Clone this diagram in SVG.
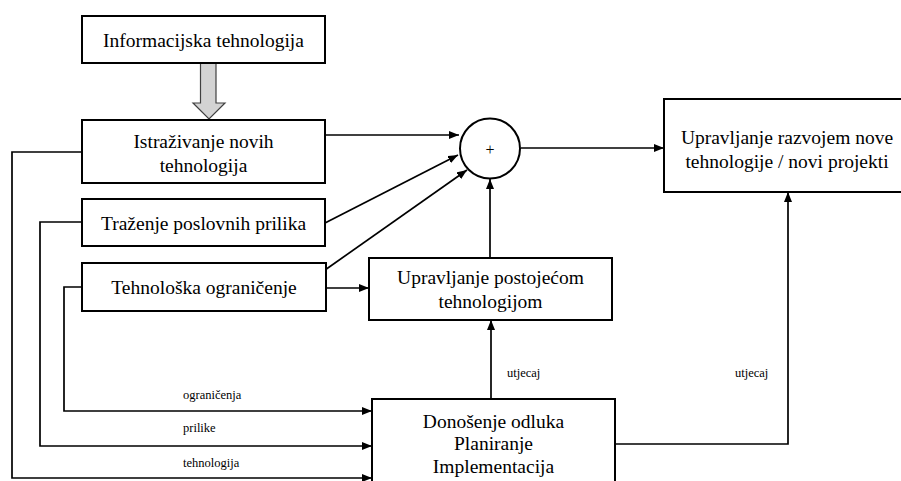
<svg xmlns="http://www.w3.org/2000/svg" width="901" height="481" viewBox="0 0 901 481">
<defs>
<marker id="ah" viewBox="0 0 10 8" refX="10" refY="4" markerWidth="10" markerHeight="8" markerUnits="userSpaceOnUse" orient="auto">
<path d="M0,0 L10,4 L0,8 Z" fill="#000"/>
</marker>
</defs>
<style>
.box{fill:#fff;stroke:#000;stroke-width:2}
.t{font-size:19.5px;fill:#000;text-anchor:middle}
.s{font-size:12.5px;fill:#000}
.c{fill:none;stroke:#000;stroke-width:1.7}
.a{marker-end:url(#ah)}
</style>
<rect width="901" height="481" fill="#fff"/>
<g font-family="'Liberation Serif', 'Times New Roman', Times, 'DejaVu Serif', serif">
<g id="connectors">
<path class="c a" d="M325,135 H459"/>
<path class="c a" d="M325,223 L458,155"/>
<path class="c a" d="M325,270 L467,170"/>
<path class="c a" d="M521,148 H664"/>
<path class="c a" d="M490,257 V179"/>
<path class="c a" d="M326,288 H369"/>
<path class="c a" d="M491,399 V320"/>
<path class="c a" d="M615,444 H788 V192"/>
<path class="c a" d="M82,152 H12 V478 H372"/>
<path class="c a" d="M82,222 H40 V446 H372"/>
<path class="c a" d="M82,287 H64 V411 H372"/>
<path d="M200.5,63 V103 H193 L209,119 L225,103 H216 V63" fill="#d3d3d3" stroke="#404040" stroke-width="1.2"/>
<text class="s" x="183" y="399">ograničenja</text>
<text class="s" x="183" y="432">prilike</text>
<text class="s" x="183" y="467">tehnologija</text>
<text class="s" x="507" y="377">utjecaj</text>
<text class="s" x="735" y="377">utjecaj</text>
</g>
<g id="n-info">
<rect class="box" x="82" y="16" width="243" height="47"/>
<text class="t" x="203.5" y="47">Informacijska tehnologija</text>
</g>
<g id="n-istrazivanje">
<rect class="box" x="82" y="120" width="243" height="63"/>
<text class="t" x="203.5" y="148">Istraživanje novih</text>
<text class="t" x="203.5" y="172">tehnologija</text>
</g>
<g id="n-trazenje">
<rect class="box" x="82" y="199" width="243" height="47"/>
<text class="t" x="203.5" y="230">Traženje poslovnih prilika</text>
</g>
<g id="n-ogranicenje">
<rect class="box" x="82" y="263" width="244" height="48"/>
<text class="t" x="204" y="294">Tehnološka ograničenje</text>
</g>
<g id="n-plus">
<circle cx="490" cy="148.5" r="30" fill="#fff" stroke="#000" stroke-width="2"/>
<text class="t" x="490" y="155" style="font-size:16px">+</text>
</g>
<g id="n-razvoj">
<rect class="box" x="664" y="99" width="245" height="93"/>
<text class="t" x="787" y="144">Upravljanje razvojem nove</text>
<text class="t" x="787" y="168">tehnologije / novi projekti</text>
</g>
<g id="n-postojeca">
<rect class="box" x="369" y="258" width="243" height="62"/>
<text class="t" x="490.5" y="284">Upravljanje postojećom</text>
<text class="t" x="490.5" y="308">tehnologijom</text>
</g>
<g id="n-donosenje">
<rect class="box" x="372" y="399" width="243" height="95"/>
<text class="t" x="493.5" y="428">Donošenje odluka</text>
<text class="t" x="493.5" y="450">Planiranje</text>
<text class="t" x="493.5" y="473">Implementacija</text>
</g>
</g>
</svg>
